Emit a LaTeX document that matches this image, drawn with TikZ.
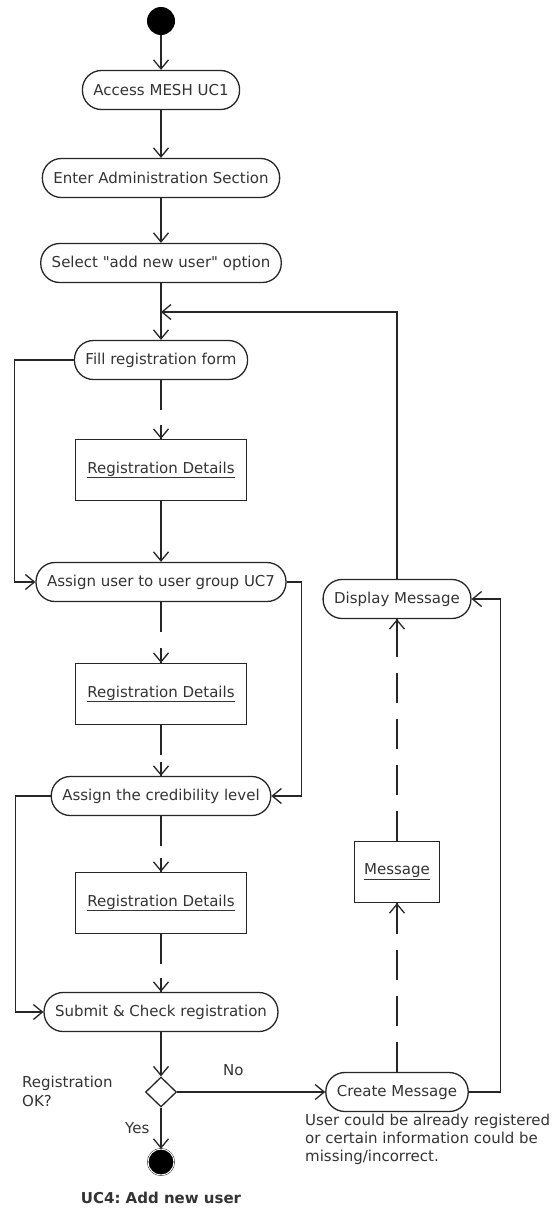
\documentclass[tikz,border=0pt]{standalone}
\usepackage{fontspec}
\setmainfont{DejaVu Sans}[Ligatures=TeXOff]
\usetikzlibrary{arrows.meta,shapes.geometric,decorations.markings}

\tikzset{
  every node/.style={font=\fontsize{15}{18}\selectfont, text=black!80},
  action/.style={draw=black!85, line width=1.3pt, rectangle, rounded corners=19pt,
    minimum height=39pt, inner xsep=11pt},
  objbox/.style={draw=black!85, line width=1.3pt, rectangle, minimum height=61pt},
  startnode/.style={circle, fill=black, minimum size=28pt, inner sep=0pt},
  endnode/.style={circle, draw=black, fill=black, double=white, double distance=1pt,
    minimum size=26pt, inner sep=0pt},
  decision/.style={draw=black!85, line width=1.3pt, diamond, minimum width=31pt,
    minimum height=30pt, inner sep=0pt},
  flow/.style={draw=black!85, line width=1.3pt, -{Straight Barb[length=9pt,width=15pt]}},
  objflow/.style={draw=black!85, line width=1.3pt, dash pattern=on 30pt off 16pt,
    decoration={markings, mark=at position 1 with {\pgfsetdash{}{0pt}
      \draw[black!85, line width=1.3pt] (-14pt,0) -- (0,0);
      \arrow{Straight Barb[length=9pt,width=15pt]}}},
    postaction={decorate}},
  lbl/.style={inner sep=0pt}
}

\begin{document}
\begin{tikzpicture}[x=1pt,y=-1pt]

  \useasboundingbox (0,0) rectangle (558,1210);

  % main column
  \node[startnode] (start) at (161,21) {};
  \node[action] (access)  at (161,90)   {Access MESH UC1};
  \node[action] (enter)   at (161,178)  {Enter Administration Section};
  \node[action] (select)  at (161,263)  {Select "add new user" option};
  \coordinate (join) at (161,312);
  \node[action] (fill)    at (161,360)  {Fill registration form};
  \node[objbox, minimum width=171pt] (det1) at (161,470) {\underline{Registration Details}};
  \node[action] (assignu) at (161,582)  {Assign user to user group UC7};
  \node[objbox, minimum width=171pt] (det2) at (161,694) {\underline{Registration Details}};
  \node[action] (cred)    at (161,796)  {Assign the credibility level};
  \node[objbox, minimum width=171pt] (det3) at (161,903) {\underline{Registration Details}};
  \node[action] (submit)  at (161,1012) {Submit \& Check registration};
  \node[decision] (dec)   at (161,1092) {};
  \node[endnode] (end)    at (161,1162) {};
  \node[font=\fontsize{15}{18}\selectfont\bfseries] (title) at (161,1198) {UC4:\ Add new user};
  \node[lbl, align=left, anchor=north west, font=\fontsize{15}{19}\selectfont] (decq) at (22,1076) {Registration\\OK?};

  % message column
  \node[action] (display) at (397,599)  {Display Message};
  \node[objbox, minimum width=85pt] (msg) at (397,872) {\underline{Message}};
  \node[action] (create)  at (397,1092) {Create Message};
  \node[lbl, align=left, anchor=north west] (note) at (305,1114)
    {User could be already registered\\or certain information could be\\missing/incorrect.};

  % control flow
  \draw[flow] (start) -- (access);
  \draw[flow] (access) -- (enter);
  \draw[flow] (enter) -- (select);
  \draw[flow] (select) -- (fill);
  \draw[flow] (display.north) |- (join);
  \draw[flow] (fill.west) -- ++(-59,0) |- (assignu.west);
  \draw[flow] (det1) -- (assignu);
  \draw[flow] (assignu.east) -- ++(15,0) |- (cred.east);
  \draw[flow] (cred.west) -- ++(-35,0) |- (submit.west);
  \draw[flow] (submit) -- (dec);
  \draw[flow] (dec.east) -- node[lbl, pos=0.38, above=16pt] {No} (create.west);
  \draw[flow] (dec.south) -- node[lbl, left=11pt] {Yes} (end);
  \draw[flow] (create.east) -- ++(32,0) |- (display.east);

  % object flow
  \draw[objflow] (fill) -- (det1);
  \draw[objflow] (assignu) -- (det2);
  \draw[objflow] (det2) -- (cred);
  \draw[objflow] (cred) -- (det3);
  \draw[objflow] (det3) -- (submit);
  \draw[objflow] (create) -- (msg);
  \draw[objflow] (msg) -- (display);

\end{tikzpicture}
\end{document}
